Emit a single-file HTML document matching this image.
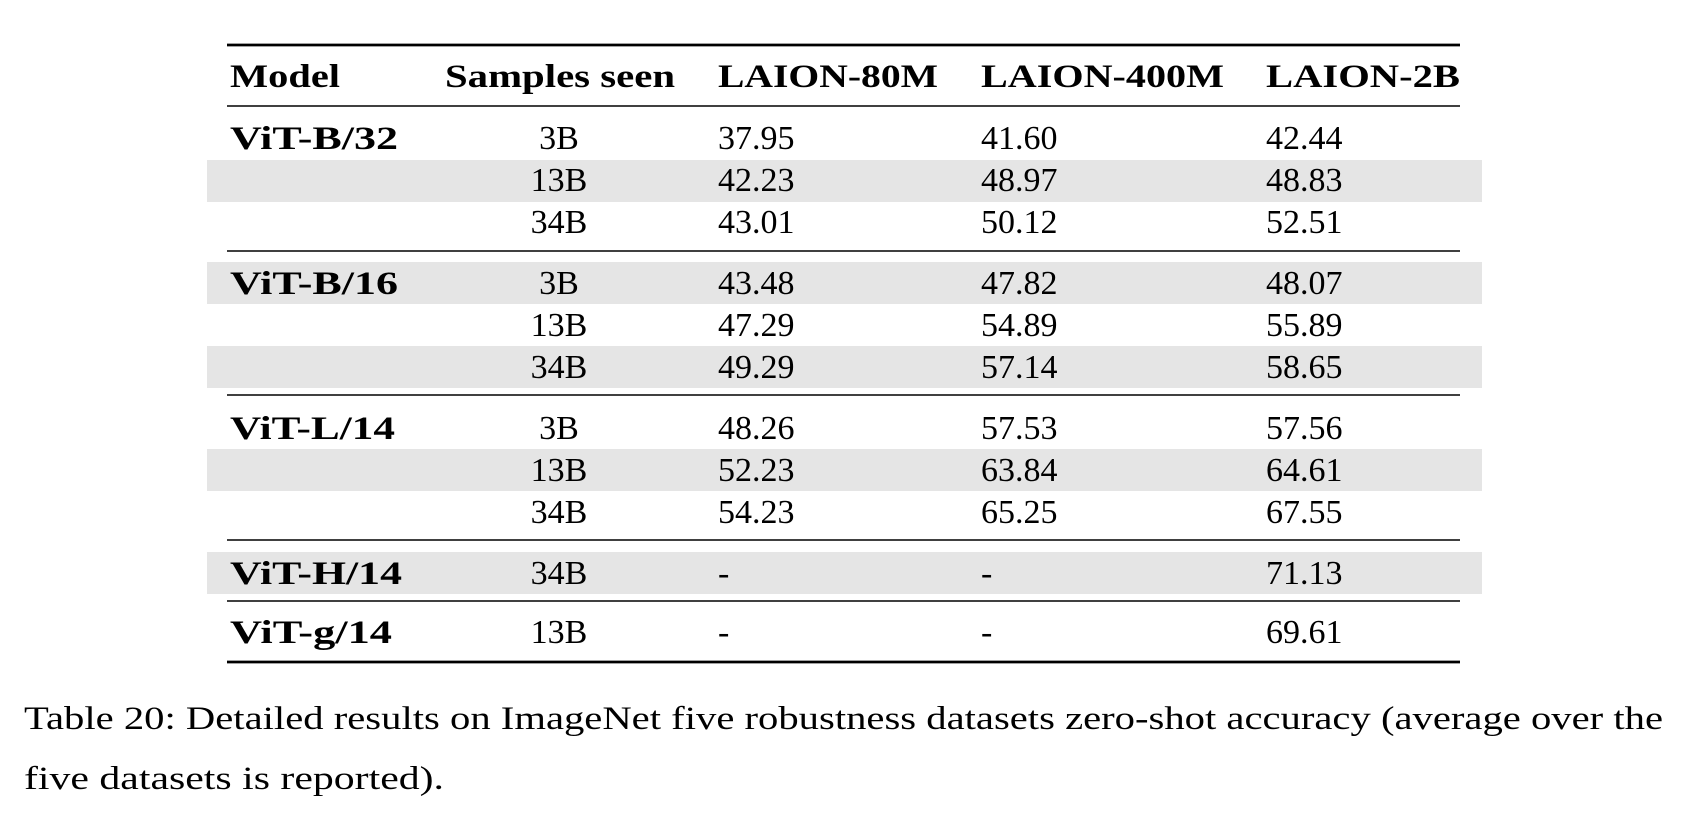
<!DOCTYPE html>
<html><head><meta charset="utf-8"><style>
html,body{margin:0;padding:0;background:#fff;}
svg{display:block;}
text{font-family:"Liberation Serif",serif;fill:#000;}
.b{font-weight:bold;}
</style></head><body>
<svg width="1693" height="820" viewBox="0 0 1693 820">
<g fill="#e5e5e5">
<rect x="207" y="160" width="1275" height="42"/>
<rect x="207" y="262" width="1275" height="42"/>
<rect x="207" y="346" width="1275" height="42"/>
<rect x="207" y="449" width="1275" height="42"/>
<rect x="207" y="552" width="1275" height="42"/>
</g>
<g stroke="#000">
<line x1="227" x2="1460" y1="45" y2="45" stroke-width="2.8"/>
<line x1="227" x2="1460" y1="106" y2="106" stroke-width="1.6"/>
<line x1="227" x2="1460" y1="251" y2="251" stroke-width="1.6"/>
<line x1="227" x2="1460" y1="395" y2="395" stroke-width="1.6"/>
<line x1="227" x2="1460" y1="540" y2="540" stroke-width="1.6"/>
<line x1="227" x2="1460" y1="601" y2="601" stroke-width="1.6"/>
<line x1="227" x2="1460" y1="662" y2="662" stroke-width="2.8"/>
</g>
<g font-size="33" class="b">
<text class="b" x="230" y="87" textLength="110" lengthAdjust="spacingAndGlyphs">Model</text>
<text class="b" x="445" y="87" textLength="230" lengthAdjust="spacingAndGlyphs">Samples seen</text>
<text class="b" x="718" y="87" textLength="220" lengthAdjust="spacingAndGlyphs">LAION-80M</text>
<text class="b" x="981" y="87" textLength="243" lengthAdjust="spacingAndGlyphs">LAION-400M</text>
<text class="b" x="1266" y="87" textLength="194" lengthAdjust="spacingAndGlyphs">LAION-2B</text>
<text class="b" x="230" y="149" textLength="168" lengthAdjust="spacingAndGlyphs">ViT-B/32</text>
<text class="b" x="230" y="294" textLength="168" lengthAdjust="spacingAndGlyphs">ViT-B/16</text>
<text class="b" x="230" y="439" textLength="165" lengthAdjust="spacingAndGlyphs">ViT-L/14</text>
<text class="b" x="230" y="584" textLength="172" lengthAdjust="spacingAndGlyphs">ViT-H/14</text>
<text class="b" x="230" y="643" textLength="162" lengthAdjust="spacingAndGlyphs">ViT-g/14</text>
</g>
<g font-size="34">
<g text-anchor="middle">
<text x="559" y="149">3B</text><text x="559" y="191">13B</text><text x="559" y="233">34B</text>
<text x="559" y="294">3B</text><text x="559" y="336">13B</text><text x="559" y="378">34B</text>
<text x="559" y="439">3B</text><text x="559" y="481">13B</text><text x="559" y="523">34B</text>
<text x="559" y="584">34B</text><text x="559" y="643">13B</text>
</g>
<text x="718" y="149">37.95</text><text x="981" y="149">41.60</text><text x="1266" y="149">42.44</text>
<text x="718" y="191">42.23</text><text x="981" y="191">48.97</text><text x="1266" y="191">48.83</text>
<text x="718" y="233">43.01</text><text x="981" y="233">50.12</text><text x="1266" y="233">52.51</text>
<text x="718" y="294">43.48</text><text x="981" y="294">47.82</text><text x="1266" y="294">48.07</text>
<text x="718" y="336">47.29</text><text x="981" y="336">54.89</text><text x="1266" y="336">55.89</text>
<text x="718" y="378">49.29</text><text x="981" y="378">57.14</text><text x="1266" y="378">58.65</text>
<text x="718" y="439">48.26</text><text x="981" y="439">57.53</text><text x="1266" y="439">57.56</text>
<text x="718" y="481">52.23</text><text x="981" y="481">63.84</text><text x="1266" y="481">64.61</text>
<text x="718" y="523">54.23</text><text x="981" y="523">65.25</text><text x="1266" y="523">67.55</text>
<text x="718" y="584">-</text><text x="981" y="584">-</text><text x="1266" y="584">71.13</text>
<text x="718" y="643">-</text><text x="981" y="643">-</text><text x="1266" y="643">69.61</text>
</g>
<g font-size="33">
<text x="24" y="729" textLength="1639" lengthAdjust="spacingAndGlyphs">Table 20: Detailed results on ImageNet five robustness datasets zero-shot accuracy (average over the</text>
<text x="24" y="789" textLength="420" lengthAdjust="spacingAndGlyphs">five datasets is reported).</text>
</g>
</svg>
</body></html>
